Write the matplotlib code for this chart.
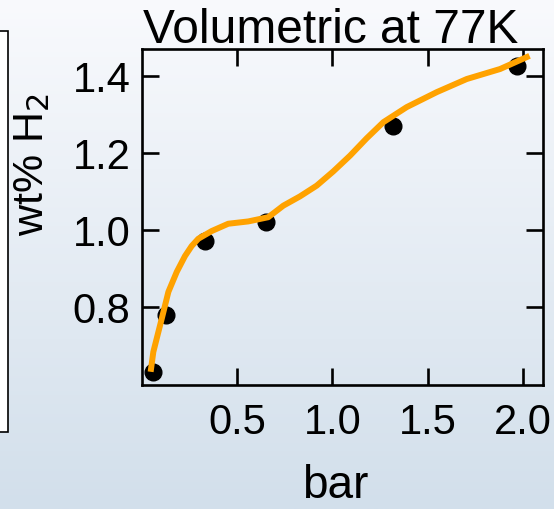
#!/usr/bin/env python3
"""
Volumetric H2 uptake at 77K: measured points plus fitted curve
"""

import numpy as np
import matplotlib
matplotlib.use("Agg")
import matplotlib.pyplot as plt
from matplotlib.colors import LinearSegmentedColormap
from matplotlib.patches import Rectangle

plt.rcParams['font.family'] = ['Liberation Sans', 'DejaVu Sans']

# measured points
pressure_bar = [0.06, 0.13, 0.33, 0.65, 1.32, 1.97]
uptake_wt = [0.63, 0.78, 0.97, 1.02, 1.27, 1.425]

# fitted curve
fit_bar = [0.049, 0.061, 0.085, 0.105, 0.140, 0.184, 0.227, 0.262, 0.297, 0.367,
           0.454, 0.559, 0.664, 0.743, 0.830, 0.918, 1.005, 1.093, 1.180, 1.268,
           1.390, 1.548, 1.705, 1.880, 2.020]
fit_wt = [0.639, 0.683, 0.730, 0.769, 0.839, 0.891, 0.932, 0.958, 0.977, 0.997,
          1.016, 1.022, 1.033, 1.063, 1.087, 1.115, 1.152, 1.193, 1.238, 1.280,
          1.319, 1.358, 1.392, 1.418, 1.449]

xticks = [0.5, 1.0, 1.5, 2.0]
yticks = [0.8, 1.0, 1.2, 1.4]

W, H = 554, 510
fig = plt.figure(figsize=(W / 100, H / 100), dpi=100)

# gradient background
bg = fig.add_axes([0, 0, 1, 1], zorder=-10)
cmap = LinearSegmentedColormap.from_list('bg', ['#f9fafd', '#d2dfeb'])
bg.imshow(np.linspace(0, 1, 256).reshape(-1, 1), aspect='auto', cmap=cmap,
          extent=[0, 1, 0, 1])
bg.axis('off')

# edge of the neighbouring panel
fig.patches.append(Rectangle((-5 / W, 1 - 433 / H), 13 / W, 401 / H,
                             transform=fig.transFigure, facecolor='white',
                             edgecolor='black', linewidth=1.2))

ax = fig.add_axes([141.7 / W, 1 - 386 / H, 401.3 / W, 336 / H])
ax.set_facecolor('none')

ax.plot(pressure_bar, uptake_wt, 'o', color='black', markersize=12, zorder=2)
ax.plot(fit_bar, fit_wt, '-', color='#ffa200', linewidth=4.3, zorder=3,
        solid_joinstyle='round')

ax.set_xlim(0, 2.105)
ax.set_ylim(0.597, 1.47)
ax.set_xticks(xticks)
ax.set_xticklabels(['0.5', '1.0', '1.5', '2.0'])
ax.set_yticks(yticks)
ax.set_yticklabels(['0.8', '1.0', '1.2', '1.4'])

for s in ax.spines.values():
    s.set_linewidth(1.9)
ax.tick_params(direction='in', length=12, width=1.9, top=True, right=True,
               labelsize=30)
ax.tick_params(axis='x', pad=12)
ax.tick_params(axis='y', pad=8)

ax.set_title('Volumetric at 77K', fontsize=34.5, x=0.47, pad=5)
fig.text(32 / W, 1 - 165 / H, 'wt% H$_2$', rotation=90, fontsize=31,
         ha='center', va='center')
fig.text(335 / W, 1 - 486 / H, 'bar', fontsize=33, ha='center', va='center')

fig.savefig('out.png', dpi=100)
